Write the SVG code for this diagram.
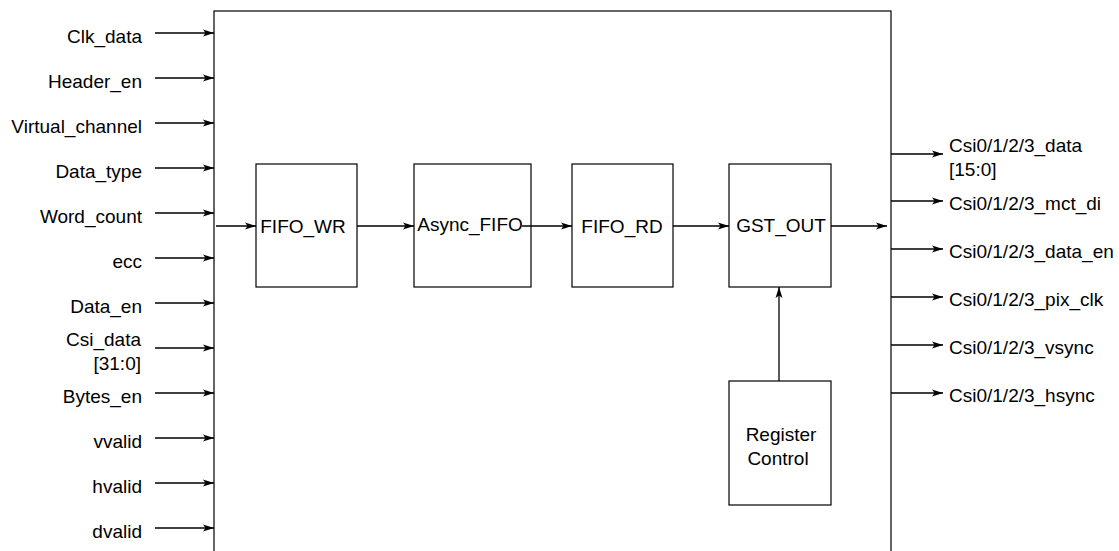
<svg xmlns="http://www.w3.org/2000/svg" width="1119" height="551" viewBox="0 0 1119 551">
<style>
text{font-family:"Liberation Sans",Arial,sans-serif;font-size:19px;fill:#000}
.l{text-anchor:end}
.m{text-anchor:middle}
.box{fill:#fff;stroke:#000;stroke-width:1.2}
.w{stroke:#000;stroke-width:1.3;fill:none;marker-end:url(#ah)}
</style>
<defs>
<marker id="ah" markerUnits="userSpaceOnUse" markerWidth="12" markerHeight="8" refX="11" refY="4" orient="auto">
<path d="M0,0.5 L11,4 L0,7.5 L2.5,4 z" fill="#000"/>
</marker>
</defs>
<g id="main"><rect class="box" x="214" y="11" width="677" height="560"/></g>
<g id="fifo_wr"><rect class="box" x="256" y="164" width="101" height="123"/><text class="m" x="303" y="233">FIFO_WR</text></g>
<g id="async_fifo"><rect class="box" x="414" y="164" width="117" height="123"/><text class="m" x="470" y="231">Async_FIFO</text></g>
<g id="fifo_rd"><rect class="box" x="572" y="164" width="101" height="123"/><text class="m" x="622" y="233">FIFO_RD</text></g>
<g id="gst_out"><rect class="box" x="729" y="164" width="102" height="123"/><text class="m" x="781" y="232">GST_OUT</text></g>
<g id="register_control"><rect class="box" x="729" y="381" width="102" height="124"/><text class="m" x="781" y="441">Register</text><text class="m" x="778" y="465">Control</text></g>
<g id="connectors">
<path class="w" d="M155,33H214"/>
<path class="w" d="M155,78H214"/>
<path class="w" d="M155,123H214"/>
<path class="w" d="M155,168H214"/>
<path class="w" d="M155,213H214"/>
<path class="w" d="M155,258H214"/>
<path class="w" d="M155,303H214"/>
<path class="w" d="M155,348H214"/>
<path class="w" d="M155,393H214"/>
<path class="w" d="M155,438H214"/>
<path class="w" d="M155,483H214"/>
<path class="w" d="M155,528H214"/>
<path class="w" d="M216,226H256"/>
<path class="w" d="M357,226H414"/>
<path class="w" d="M522,226H572"/>
<path class="w" d="M673,226H729"/>
<path class="w" d="M831,226H887"/>
<path class="w" d="M779,381V287"/>
<path class="w" d="M891,154H943"/>
<path class="w" d="M891,201H943"/>
<path class="w" d="M891,249H943"/>
<path class="w" d="M891,297H943"/>
<path class="w" d="M891,345H943"/>
<path class="w" d="M891,393H943"/>
</g>
<g id="inputs">
<text class="l" x="142" y="42.5">Clk_data</text>
<text class="l" x="142" y="87.5">Header_en</text>
<text class="l" x="142" y="132.5">Virtual_channel</text>
<text class="l" x="142" y="177.5">Data_type</text>
<text class="l" x="142" y="222.5">Word_count</text>
<text class="l" x="142" y="267.5">ecc</text>
<text class="l" x="142" y="312.5">Data_en</text>
<text class="l" x="141" y="345.5">Csi_data</text>
<text class="l" x="141" y="369.5">[31:0]</text>
<text class="l" x="142" y="402.5">Bytes_en</text>
<text class="l" x="142" y="447.5">vvalid</text>
<text class="l" x="142" y="492.5">hvalid</text>
<text class="l" x="142" y="537.5">dvalid</text>
</g>
<g id="outputs">
<text x="949" y="151.5">Csi0/1/2/3_data</text>
<text x="949" y="176">[15:0]</text>
<text x="949" y="210">Csi0/1/2/3_mct_di</text>
<text x="949" y="258">Csi0/1/2/3_data_en</text>
<text x="949" y="306">Csi0/1/2/3_pix_clk</text>
<text x="949" y="354">Csi0/1/2/3_vsync</text>
<text x="949" y="402">Csi0/1/2/3_hsync</text>
</g>
</svg>
